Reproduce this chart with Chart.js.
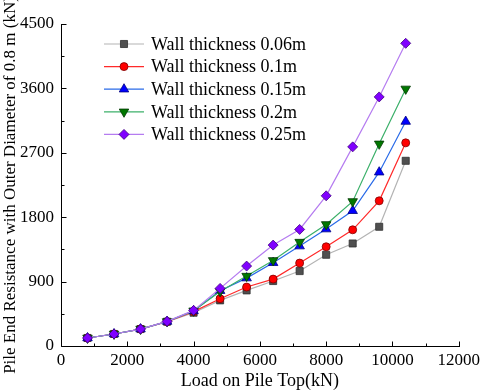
<!DOCTYPE html>
<html><head><meta charset="utf-8">
<script src="https://cdn.jsdelivr.net/npm/chart.js@4/dist/chart.umd.min.js"></script>
<style>html,body{margin:0;padding:0;background:#fff}#wrap{width:484px;height:392px}</style>
</head><body><div id="wrap"><canvas id="c" width="484" height="392"></canvas></div>
<script>
const loads = [800,1600,2400,3200,4000,4800,5600,6400,7200,8000,8800,9600,10400];
const t006 = [112,168,237,340,465,638,777,908,1047,1275,1433,1666,2588];
const t010 = [112,168,237,340,480,661,824,935,1159,1387,1624,2029,2839];
const t015 = [112,168,237,342,490,773,949,1163,1396,1634,1890,2429,3137];
const t020 = [112,168,237,342,492,763,977,1196,1452,1699,2020,2825,3593];
const t025 = [112,168,237,344,498,805,1117,1410,1629,2099,2783,3481,4230];
const seriesNames = ['Wall thickness 0.06m','Wall thickness 0.1m','Wall thickness 0.15m','Wall thickness 0.2m','Wall thickness 0.25m'];
const xTicks = [0,2000,4000,6000,8000,10000,12000];
const yTicks = [0,900,1800,2700,3600,4500];

const FONT = "'Liberation Serif','Times New Roman',serif";
const styles = [
  {line:'#b4b4b4', fill:'#505050', border:'#303030', ps:'rect', r:5, rot:0},
  {line:'#ff2a2a', fill:'#ff0000', border:'#800000', ps:'circle', r:4, rot:0},
  {line:'#2a6be8', fill:'#0000ff', border:'#000080', ps:'triangle', r:5.5, rot:0},
  {line:'#3cb06a', fill:'#007800', border:'#003800', ps:'triangle', r:5.5, rot:180},
  {line:'#b57cf0', fill:'#8000ff', border:'#400080', ps:'rectRot', r:5, rot:0}
];
const values = [t006,t010,t015,t020,t025];
const datasets = values.map((v,i)=>({
  label: seriesNames[i],
  data: loads.map((x,j)=>({x:x,y:v[j]})),
  borderColor: styles[i].line,
  borderWidth: 1.2,
  backgroundColor: styles[i].fill,
  pointBackgroundColor: styles[i].fill,
  pointBorderColor: styles[i].border,
  pointBorderWidth: 0.8,
  pointStyle: styles[i].ps,
  pointRadius: styles[i].r,
  pointRotation: styles[i].rot,
  tension: 0,
  order: 4 - i
}));

const axesPlugin = {
  id:'axesPlugin',
  afterDraw(chart){
    const ctx = chart.ctx, a = chart.chartArea;
    const xs = chart.scales.x, ys = chart.scales.y;
    ctx.save();
    ctx.strokeStyle = '#000'; ctx.lineWidth = 1;
    ctx.beginPath();
    const x0 = Math.round(a.left)+0.5, y0 = Math.round(a.bottom)+0.5;
    ctx.moveTo(x0, Math.round(a.top)); ctx.lineTo(x0, y0); ctx.lineTo(Math.round(a.right)+1, y0);
    for (let v=0; v<=12000; v+=1000){
      const px = Math.round(xs.getPixelForValue(v))+0.5;
      const len = (v%2000===0)?5:3;
      ctx.moveTo(px, y0); ctx.lineTo(px, y0-len);
    }
    for (let v=0; v<=4500; v+=450){
      const py = Math.round(ys.getPixelForValue(v))+0.5;
      const len = (v%900===0)?5:3;
      ctx.moveTo(x0, py); ctx.lineTo(x0+len, py);
    }
    ctx.stroke();
    // legend
    const lx1 = 104, lx2 = 144, tx = 151, y0l = 44, dy = 22.6;
    ctx.font = '18px ' + FONT; ctx.fillStyle = '#000'; ctx.textBaseline = 'middle';
    styles.forEach((s,i)=>{
      const y = y0l + i*dy;
      ctx.strokeStyle = s.line; ctx.lineWidth = 1.2;
      ctx.beginPath(); ctx.moveTo(lx1,y); ctx.lineTo(lx2,y); ctx.stroke();
      ctx.fillStyle = s.fill; ctx.strokeStyle = s.border; ctx.lineWidth = 0.8;
      Chart.helpers.drawPoint(ctx,{pointStyle:s.ps, radius:s.r, rotation:s.rot, borderWidth:0.8},(lx1+lx2)/2,y);
      ctx.fillStyle = '#000';
      ctx.fillText(seriesNames[i], tx, y+1);
    });
    ctx.restore();
  }
};

new Chart(document.getElementById('c'), {
  type:'line',
  data:{datasets},
  plugins:[axesPlugin],
  options:{
    responsive:false, animation:false, devicePixelRatio:1,
    layout:{padding:{top:24,right:23,left:0,bottom:0}},
    plugins:{legend:{display:false}, tooltip:{enabled:false}},
    scales:{
      x:{type:'linear', min:0, max:12000,
        afterBuildTicks:s=>{s.ticks = xTicks.map(v=>({value:v}));},
        afterFit:s=>{s.height = 46;},
        grid:{display:false, drawTicks:false}, border:{display:false},
        ticks:{color:'#000', font:{family:FONT,size:17}, padding:4, maxRotation:0, autoSkip:false, callback:v=>String(v)},
        title:{display:true, text:'Load on Pile Top(kN)', color:'#000', font:{family:FONT,size:18}, padding:{top:0,bottom:0}}
      },
      y:{type:'linear', min:0, max:4500,
        afterBuildTicks:s=>{s.ticks = yTicks.map(v=>({value:v}));},
        afterFit:s=>{s.width = 61;},
        grid:{display:false, drawTicks:false}, border:{display:false},
        ticks:{color:'#000', font:{family:FONT,size:17}, padding:7, autoSkip:false, callback:v=>String(v)},
        title:{display:true, text:'Pile End Resistance with Outer Diameter of 0.8 m (kN)', color:'#000', font:{family:FONT,size:17}, padding:{top:0,bottom:0}}
      }
    }
  }
});
</script></body></html>
